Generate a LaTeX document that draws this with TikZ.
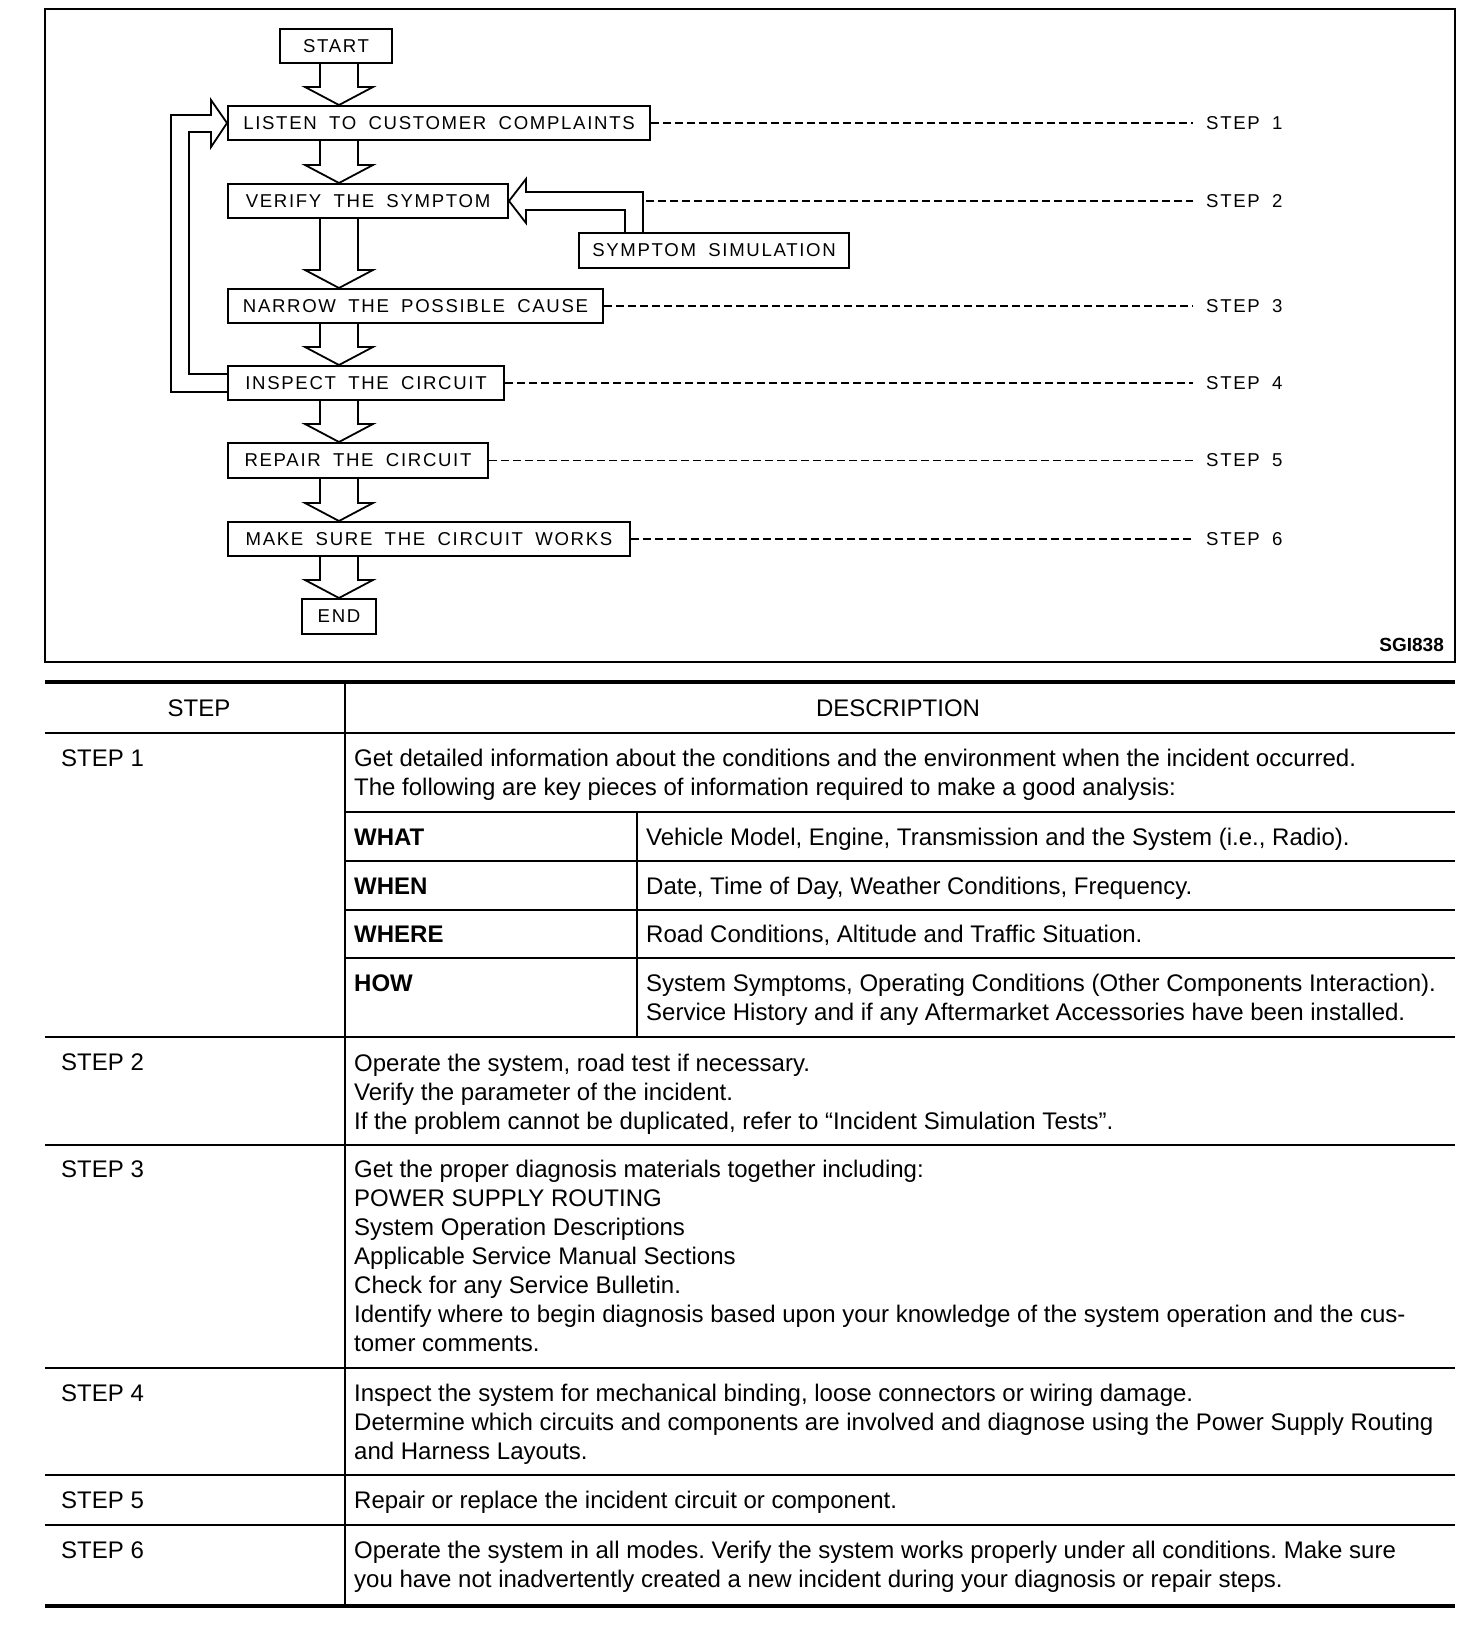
\documentclass[tikz,border=0pt]{standalone}
\usepackage{fontspec}
\setmainfont{Liberation Sans}
\newfontfamily\flowfont[LetterSpace=9,WordSpace=1.8]{Liberation Sans}
\usetikzlibrary{calc}
\frenchspacing

\newcommand\tabfont{\fontsize{24}{29}\selectfont}
\newcommand\boxfont{\flowfont\fontsize{18.6}{22}\selectfont}

\tikzset{
  stepbox/.style={draw, line width=2pt, minimum height=34pt, inner sep=0pt, font=\boxfont},
  flowline/.style={line width=1.8pt},
  leader/.style={line width=1.6pt, dash pattern=on 8pt off 4pt},
  steplabel/.style={anchor=west, inner xsep=13pt, font=\boxfont},
  cell/.style={anchor=base west, align=left, inner sep=0pt, font=\tabfont},
  rule/.style={line width=2pt},
}

% hollow arrow going down from #1 to #2 along the axis
\newcommand\blockdown[2]{%
  \draw[flowline] ($(#1.south -| axis)+(-19,0)$) -- ($(#2.north -| axis)+(-19,18)$)
    -- ++(-15,0) -- (#2.north -| axis) -- ++(34,18) -- ++(-15,0)
    -- ($(#1.south -| axis)+(19,0)$);}

\begin{document}
\begin{tikzpicture}[x=1pt,y=1pt,line join=miter]
  \useasboundingbox (0,0) rectangle (1472,-1630);
  \draw[line width=2.5pt] (45,-9) rectangle (1455,-662);
  \coordinate (axis) at (339,0);
  \coordinate (steps) at (1193,0);

  % flow chart
  \node[stepbox, minimum width=112pt] (start) at (336,-46) {START};
  \node[stepbox, minimum width=422pt, anchor=west] (listen) at (227,-123) {LISTEN TO CUSTOMER COMPLAINTS};
  \node[stepbox, minimum width=280pt, anchor=west] (verify) at (227,-201) {VERIFY THE SYMPTOM};
  \node[stepbox, minimum width=270pt, minimum height=35pt, anchor=west] (sim) at (578,-250.5) {SYMPTOM SIMULATION};
  \node[stepbox, minimum width=375pt, anchor=west] (narrow) at (227,-306) {NARROW THE POSSIBLE CAUSE};
  \node[stepbox, minimum width=276pt, anchor=west] (inspect) at (227,-383) {INSPECT THE CIRCUIT};
  \node[stepbox, minimum width=260pt, minimum height=35pt, anchor=west] (repair) at (227,-460.5) {REPAIR THE CIRCUIT};
  \node[stepbox, minimum width=402pt, anchor=west] (works) at (227,-539) {MAKE SURE THE CIRCUIT WORKS};
  \node[stepbox, minimum width=74pt, minimum height=35pt] (finish) at (339,-616.5) {END};

  \blockdown{start}{listen}
  \foreach \a/\b in {listen/verify, verify/narrow, narrow/inspect, inspect/repair, repair/works, works/finish}
    {\blockdown{\a}{\b}}

  % back to step 1
  \draw[flowline] ([yshift=-9pt]inspect.west) -- ++(-56,0) |- ([xshift=-16pt,yshift=8pt]listen.west)
    -- ++(0,15) -- (listen.west) -- ++(-16,-24) -- ++(0,15) -- ++(-22,0) |- ([yshift=9pt]inspect.west);
  % simulation feeds the verify box
  \draw[flowline] ([xshift=-71pt]sim.north) |- ([xshift=17pt,yshift=9pt]verify.east)
    -- ++(0,13) -- (verify.east) -- ++(17,-22) -- ++(0,13) -| ([xshift=-89pt]sim.north);
  \coordinate (simedge) at ([xshift=-68pt]sim.north |- verify.east);

  \node[steplabel] (step1) at (listen.east -| steps) {STEP 1};
  \node[steplabel] (step2) at (verify.east -| steps) {STEP 2};
  \node[steplabel] (step3) at (narrow.east -| steps) {STEP 3};
  \node[steplabel] (step4) at (inspect.east -| steps) {STEP 4};
  \node[steplabel] (step5) at (repair.east -| steps) {STEP 5};
  \node[steplabel] (step6) at (works.east -| steps) {STEP 6};
  \draw[leader] (listen.east) -- (step1.west);
  \draw[leader] (simedge) -- (step2.west);
  \draw[leader] (narrow.east) -- (step3.west);
  \draw[leader] (inspect.east) -- (step4.west);
  \draw[leader] (repair.east) -- (step5.west);
  \draw[leader] (works.east) -- (step6.west);

  \node[anchor=base east, inner sep=0pt, font=\bfseries\fontsize{19}{21}\selectfont] (code) at (1444,-651) {SGI838};

  % table rules
  \draw[line width=4pt] (45,-682) -- (1455,-682);
  \draw[line width=2.5pt] (45,-733) -- (1455,-733);
  \foreach \y in {812,861,910,958} \draw[rule] (345,-\y) -- (1455,-\y);
  \foreach \y in {1037,1145,1368,1475,1525} \draw[rule] (45,-\y) -- (1455,-\y);
  \draw[line width=4pt] (45,-1606) -- (1455,-1606);
  \draw[line width=2.5pt] (345,-682) -- (345,-1606);
  \draw[rule] (637,-812) -- (637,-1037);

  % table text (multi-line cells sit on their last baseline)
  \node[cell, anchor=base] (hstep) at (199,-716) {STEP};
  \node[cell, anchor=base] (hdesc) at (898,-716) {DESCRIPTION};

  \node[cell] (s1) at (61,-766) {STEP 1};
  \node[cell] (d1) at (354,-795) {Get detailed information about the conditions and the environment when the incident occurred.\\
    The following are key pieces of information required to make a good analysis:};
  \node[cell, font=\tabfont\bfseries] (kwhat) at (354,-845) {WHAT};
  \node[cell] (vwhat) at (646,-845) {Vehicle Model, Engine, Transmission and the System (i.e., Radio).};
  \node[cell, font=\tabfont\bfseries] (kwhen) at (354,-894) {WHEN};
  \node[cell] (vwhen) at (646,-894) {Date, Time of Day, Weather Conditions, Frequency.};
  \node[cell, font=\tabfont\bfseries] (kwhere) at (354,-942) {WHERE};
  \node[cell] (vwhere) at (646,-942) {Road Conditions, Altitude and Traffic Situation.};
  \node[cell, font=\tabfont\bfseries] (khow) at (354,-991) {HOW};
  \node[cell] (vhow) at (646,-1020) {System Symptoms, Operating Conditions (Other Components Interaction).\\
    Service History and if any Aftermarket Accessories have been installed.};

  \node[cell] (s2) at (61,-1070) {STEP 2};
  \node[cell] (d2) at (354,-1129) {Operate the system, road test if necessary.\\
    Verify the parameter of the incident.\\
    If the problem cannot be duplicated, refer to “Incident Simulation Tests”.};

  \node[cell] (s3) at (61,-1177) {STEP 3};
  \node[cell] (d3) at (354,-1351) {Get the proper diagnosis materials together including:\\
    POWER SUPPLY ROUTING\\
    System Operation Descriptions\\
    Applicable Service Manual Sections\\
    Check for any Service Bulletin.\\
    Identify where to begin diagnosis based upon your knowledge of the system operation and the cus-\\
    tomer comments.};

  \node[cell] (s4) at (61,-1401) {STEP 4};
  \node[cell] (d4) at (354,-1459) {Inspect the system for mechanical binding, loose connectors or wiring damage.\\
    Determine which circuits and components are involved and diagnose using the Power Supply Routing\\
    and Harness Layouts.};

  \node[cell] (s5) at (61,-1508) {STEP 5};
  \node[cell] (d5) at (354,-1508) {Repair or replace the incident circuit or component.};

  \node[cell] (s6) at (61,-1558) {STEP 6};
  \node[cell] (d6) at (354,-1587) {Operate the system in all modes. Verify the system works properly under all conditions. Make sure\\
    you have not inadvertently created a new incident during your diagnosis or repair steps.};
\end{tikzpicture}
\end{document}
